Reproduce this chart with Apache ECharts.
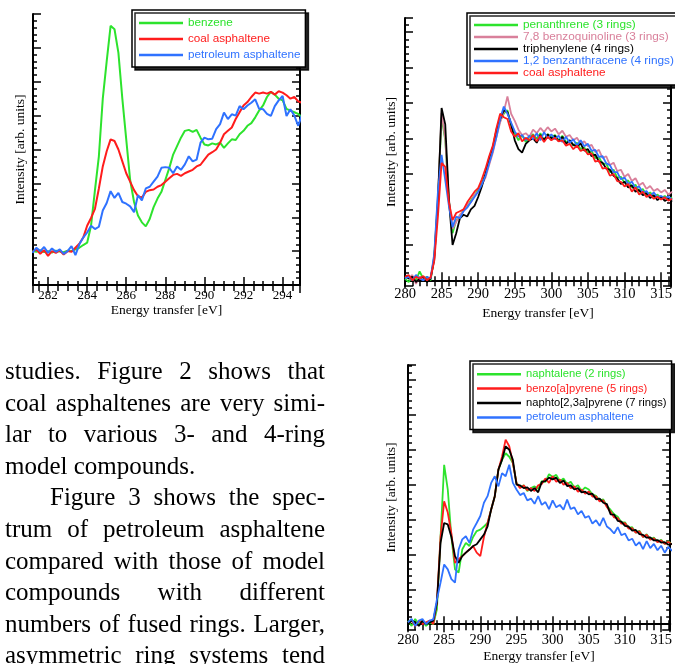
<!DOCTYPE html>
<html>
<head>
<meta charset="utf-8">
<script src="https://cdn.jsdelivr.net/npm/echarts@6/dist/echarts.min.js"></script>
<style>
  html, body { margin: 0; padding: 0; background: #fff; }
  #page { position: relative; width: 675px; height: 664px; overflow: hidden; }
  #chart { position: absolute; left: 0; top: 0; width: 675px; height: 664px; }
  #text { position: absolute; left: 5px; top: 355px; width: 320px;
          font-family: 'Liberation Serif', serif; font-size: 25px; line-height: 31.6px; color: #000; }
  #text div { text-align: justify; text-align-last: justify; }
  #text div.left { text-align: left; text-align-last: left; }
  #text div.indent { padding-left: 45px; }
</style>
</head>
<body>
<div id="page">
  <div id="chart"></div>
  <div id="text">
    <div>studies. Figure 2 shows that</div>
    <div>coal asphaltenes are very simi-</div>
    <div>lar to various 3- and 4-ring</div>
    <div class="left">model compounds.</div>
    <div class="indent">Figure 3 shows the spec-</div>
    <div>trum of petroleum asphaltene</div>
    <div>compared with those of model</div>
    <div>compounds with different</div>
    <div>numbers of fused rings. Larger,</div>
    <div>asymmetric ring systems tend</div>
  </div>
</div>
<script>
// energy grids [eV]
const energyFig1 = [
  281.2, 281.4, 281.6, 281.8, 282.0, 282.2, 282.4, 282.6, 282.8, 283.0,
  283.2, 283.4, 283.6, 283.8, 284.0, 284.2, 284.4, 284.6, 284.8, 285.0,
  285.2, 285.4, 285.6, 285.8, 286.0, 286.2, 286.4, 286.6, 286.8, 287.0,
  287.2, 287.4, 287.6, 287.8, 288.0, 288.2, 288.4, 288.6, 288.8, 289.0,
  289.2, 289.4, 289.6, 289.8, 290.0, 290.2, 290.4, 290.6, 290.8, 291.0,
  291.2, 291.4, 291.6, 291.8, 292.0, 292.2, 292.4, 292.6, 292.8, 293.0,
  293.2, 293.4, 293.6, 293.8, 294.0, 294.2, 294.4, 294.6, 294.8, 295.0
];
const energyFig23 = [
  280.0, 280.5, 281.0, 281.5, 282.0, 282.5, 283.0, 283.5, 284.0, 284.5,
  285.0, 285.5, 286.0, 286.5, 287.0, 287.5, 288.0, 288.5, 289.0, 289.5,
  290.0, 290.5, 291.0, 291.5, 292.0, 292.5, 293.0, 293.5, 294.0, 294.5,
  295.0, 295.5, 296.0, 296.5, 297.0, 297.5, 298.0, 298.5, 299.0, 299.5,
  300.0, 300.5, 301.0, 301.5, 302.0, 302.5, 303.0, 303.5, 304.0, 304.5,
  305.0, 305.5, 306.0, 306.5, 307.0, 307.5, 308.0, 308.5, 309.0, 309.5,
  310.0, 310.5, 311.0, 311.5, 312.0, 312.5, 313.0, 313.5, 314.0, 314.5,
  315.0, 315.5, 316.0, 316.5
];

// figure 1 (top left)
const benzene = [
  1.00, 0.98, 1.02, 0.97, 1.00, 0.96, 1.01, 0.99, 0.97, 1.01,
  1.00, 1.05, 1.10, 1.18, 1.25, 1.75, 2.80, 3.80, 5.50, 6.60,
  7.65, 7.55, 6.85, 5.50, 4.30, 3.10, 2.45, 2.05, 1.85, 1.73,
  1.95, 2.30, 2.55, 2.75, 3.10, 3.45, 3.85, 4.10, 4.35, 4.55,
  4.58, 4.52, 4.58, 4.35, 4.15, 4.12, 4.18, 4.15, 4.20, 4.05,
  4.18, 4.30, 4.28, 4.45, 4.55, 4.70, 4.78, 4.95, 5.15, 5.30,
  5.55, 5.70, 5.62, 5.50, 5.45, 5.20, 5.15, 5.10, 5.05, 4.95
];
const coalFig1 = [
  0.98, 1.05, 0.92, 1.03, 0.86, 1.00, 0.95, 1.02, 0.90, 1.00,
  0.98, 1.10, 1.22, 1.40, 1.75, 1.98, 2.25, 2.85, 3.50, 3.95,
  4.30, 4.25, 4.00, 3.65, 3.30, 3.05, 2.80, 2.62, 2.58, 2.75,
  2.80, 2.82, 2.90, 2.95, 3.05, 3.15, 3.25, 3.28, 3.22, 3.30,
  3.35, 3.40, 3.50, 3.55, 3.70, 3.85, 3.92, 4.00, 4.20, 4.45,
  4.55, 4.65, 4.90, 5.10, 5.30, 5.40, 5.55, 5.68, 5.65, 5.68,
  5.65, 5.70, 5.62, 5.72, 5.68, 5.60, 5.50, 5.55, 5.42, 5.38
];
const petroFig1 = [
  0.95, 1.10, 1.00, 1.12, 0.95, 1.08, 0.98, 1.05, 0.92, 1.00,
  1.15, 0.88, 1.20, 1.40, 1.55, 1.75, 1.65, 1.72, 2.20, 2.42,
  2.77, 2.57, 2.72, 2.45, 2.40, 2.32, 2.15, 2.65, 2.50, 2.85,
  2.90, 3.05, 3.20, 3.46, 3.48, 3.46, 3.30, 3.50, 3.40, 3.56,
  3.80, 3.65, 3.70, 4.20, 4.35, 4.30, 4.32, 4.60, 4.75, 5.09,
  4.90, 5.04, 5.00, 5.28, 5.19, 5.30, 5.38, 5.48, 5.20, 5.19,
  5.05, 4.99, 5.28, 5.45, 5.58, 4.99, 5.19, 5.00, 4.70, 5.04
];

// figure 2 (top right)
const penanthrene = [
  0.05, -0.05, 0.10, 0.00, 0.25, 0.05, 0.10, 0.00, 0.70, 2.30,
  4.60, 3.95, 2.27, 1.33, 1.70, 1.80, 2.00, 2.10, 2.25, 2.40,
  2.55, 2.75, 3.00, 3.35, 3.70, 4.15, 4.50, 4.70, 4.80, 4.35,
  4.15, 3.95, 4.10, 3.90, 4.05, 4.12, 4.00, 4.15, 3.95, 4.12,
  4.05, 4.10, 3.95, 4.08, 3.90, 3.95, 3.80, 3.88, 3.70, 3.75,
  3.60, 3.65, 3.45, 3.48, 3.28, 3.30, 3.05, 3.12, 2.90, 2.92,
  2.75, 2.82, 2.62, 2.70, 2.50, 2.58, 2.40, 2.48, 2.36, 2.42,
  2.32, 2.38, 2.28, 2.34
];
const benzoquinoline = [
  0.10, 0.05, 0.15, -0.10, 0.10, 0.05, 0.00, 0.10, 0.65, 2.40,
  4.72, 4.00, 2.30, 1.45, 1.65, 1.85, 1.95, 2.15, 2.20, 2.40,
  2.50, 2.70, 2.90, 3.25, 3.60, 4.05, 4.45, 4.75, 5.19, 4.70,
  4.50, 4.25, 4.10, 4.15, 4.05, 4.25, 4.15, 4.30, 4.18, 4.32,
  4.20, 4.28, 4.12, 4.22, 4.05, 4.10, 3.95, 4.02, 3.85, 3.92,
  3.78, 3.82, 3.62, 3.68, 3.45, 3.50, 3.25, 3.32, 3.08, 3.12,
  2.92, 3.00, 2.80, 2.88, 2.68, 2.75, 2.58, 2.66, 2.52, 2.58,
  2.48, 2.55, 2.42, 2.50
];
const triphenylene = [
  0.15, 0.05, 0.10, -0.05, 0.05, 0.10, -0.05, 0.05, 0.60, 2.20,
  4.86, 4.40, 2.27, 1.00, 1.33, 1.75, 1.85, 1.80, 2.00, 2.10,
  2.35, 2.65, 3.00, 3.45, 3.75, 4.25, 4.55, 4.80, 4.75, 4.40,
  3.95, 3.70, 3.60, 3.85, 3.95, 4.00, 3.88, 4.10, 3.95, 4.12,
  4.00, 4.08, 3.92, 4.05, 3.85, 3.95, 3.82, 3.78, 3.86, 3.66,
  3.70, 3.50, 3.55, 3.35, 3.32, 3.15, 3.12, 2.95, 2.88, 2.72,
  2.78, 2.62, 2.68, 2.50, 2.55, 2.40, 2.46, 2.32, 2.40, 2.26,
  2.36, 2.24, 2.30, 2.22
];
const benzanthracene = [
  0.05, 0.10, 0.00, 0.15, 0.05, 0.00, 0.10, 0.05, 0.75, 2.50,
  3.54, 2.83, 2.10, 1.50, 1.80, 1.75, 1.95, 2.05, 2.20, 2.35,
  2.50, 2.70, 2.95, 3.30, 3.65, 4.05, 4.55, 4.90, 4.70, 4.45,
  4.20, 4.05, 4.10, 3.95, 4.08, 3.98, 4.15, 3.95, 4.18, 4.00,
  4.12, 3.98, 4.08, 3.90, 4.05, 3.88, 3.98, 3.80, 3.95, 3.78,
  3.85, 3.65, 3.68, 3.48, 3.50, 3.30, 3.25, 3.05, 3.05, 2.85,
  2.90, 2.72, 2.78, 2.60, 2.65, 2.48, 2.52, 2.38, 2.48, 2.34,
  2.38, 2.32, 2.36, 2.28
];
const coalFig2 = [
  0.10, 0.15, 0.00, 0.10, 0.05, 0.12, 0.00, 0.08, 0.55, 1.80,
  3.31, 3.20, 2.20, 1.70, 1.90, 1.95, 2.00, 2.20, 2.35, 2.50,
  2.60, 2.85, 3.15, 3.50, 3.80, 4.30, 4.70, 4.60, 4.55, 4.20,
  4.05, 4.15, 3.92, 4.02, 3.95, 4.10, 3.92, 4.08, 3.90, 4.05,
  3.95, 4.02, 3.92, 3.95, 3.80, 3.85, 3.70, 3.80, 3.65, 3.70,
  3.55, 3.58, 3.35, 3.38, 3.15, 3.18, 2.95, 3.00, 2.80, 2.78,
  2.65, 2.72, 2.50, 2.62, 2.42, 2.50, 2.35, 2.42, 2.30, 2.36,
  2.28, 2.34, 2.25, 2.30
];

// figure 3 (bottom right)
const naphtalene = [
  0.10, -0.05, 0.15, 0.00, 0.10, -0.05, 0.05, 0.00, 0.43, 2.50,
  4.57, 3.86, 2.50, 1.57, 1.48, 2.14, 2.33, 2.24, 2.50, 2.67,
  2.71, 2.80, 2.90, 3.29, 3.67, 4.43, 4.71, 4.90, 4.80, 4.62,
  4.05, 3.92, 3.98, 3.82, 3.90, 3.95, 3.88, 4.10, 4.08, 4.30,
  4.22, 4.28, 4.10, 4.18, 4.02, 4.08, 3.92, 3.98, 3.82, 3.92,
  3.86, 3.72, 3.68, 3.55, 3.58, 3.38, 3.28, 3.15, 3.08, 2.92,
  2.92, 2.76, 2.78, 2.62, 2.68, 2.50, 2.58, 2.44, 2.48, 2.36,
  2.42, 2.30, 2.38, 2.28
];
const benzopyrene = [
  0.05, 0.10, -0.05, 0.10, 0.00, 0.05, 0.10, 0.00, 0.62, 2.50,
  3.52, 3.20, 2.60, 1.76, 1.86, 1.95, 2.05, 2.14, 2.24, 2.05,
  1.95, 2.50, 2.90, 3.29, 3.67, 4.43, 4.80, 5.29, 5.10, 4.62,
  4.05, 3.90, 3.98, 3.84, 3.90, 3.82, 3.98, 4.02, 4.18, 4.05,
  4.24, 4.08, 4.15, 4.00, 4.05, 3.90, 3.95, 3.80, 3.86, 3.74,
  3.80, 3.66, 3.66, 3.52, 3.55, 3.36, 3.22, 3.06, 3.04, 2.88,
  2.90, 2.74, 2.75, 2.62, 2.66, 2.50, 2.56, 2.42, 2.46, 2.35,
  2.40, 2.30, 2.36, 2.28
];
const naphtopyrene = [
  0.00, 0.10, 0.05, -0.05, 0.10, 0.00, 0.05, 0.10, 0.62, 2.33,
  2.90, 2.86, 2.50, 1.95, 1.76, 1.95, 2.05, 2.14, 2.24, 2.29,
  2.43, 2.57, 2.80, 3.29, 3.67, 4.43, 4.71, 5.10, 5.00, 4.71,
  4.00, 3.98, 3.90, 3.92, 3.82, 3.90, 3.78, 4.08, 4.10, 4.20,
  4.15, 4.20, 4.05, 4.12, 3.96, 3.98, 3.86, 3.90, 3.78, 3.80,
  3.72, 3.74, 3.58, 3.60, 3.48, 3.44, 3.15, 3.14, 2.96, 2.94,
  2.82, 2.80, 2.68, 2.70, 2.58, 2.56, 2.48, 2.49, 2.40, 2.41,
  2.34, 2.35, 2.28, 2.30
];
const petroFig3 = [
  0.05, 0.15, -0.05, 0.10, 0.15, 0.00, 0.10, 0.14, 0.71, 1.19,
  1.71, 1.57, 1.29, 1.19, 2.14, 2.43, 2.52, 2.33, 2.71, 2.90,
  3.10, 3.48, 3.67, 4.05, 4.24, 3.95, 4.33, 4.24, 4.57, 4.05,
  3.86, 3.70, 3.76, 3.55, 3.60, 3.45, 3.67, 3.42, 3.50, 3.30,
  3.55, 3.35, 3.42, 3.28, 3.57, 3.30, 3.35, 3.15, 3.25, 3.05,
  3.10, 2.88, 2.98, 2.82, 3.05, 2.80, 2.72, 2.60, 2.78, 2.55,
  2.60, 2.40, 2.45, 2.25, 2.35, 2.15, 2.38, 2.18, 2.30, 2.12,
  2.25, 2.05, 2.22, 2.10
];

const GREEN = '#2de32d', RED = '#ff1c1c', BLUE = '#2f72ff', PINK = '#d9809b', BLACK = '#000';
const SERIF = 'Liberation Serif';
const SANS = 'Liberation Sans';

function xPair(grid, min, max, labelSize, labelMargin, nameGap, showMin, minorSplit) {
  const common = {
    type: 'value', gridIndex: grid, min: min, max: max, splitNumber: 7,
    splitLine: { show: false },
    axisLine: { show: true, lineStyle: { color: BLACK, width: 2 } },
    axisTick: { show: true, inside: true, length: 8, lineStyle: { color: BLACK, width: 1.5 } },
    minorTick: { show: true, splitNumber: minorSplit, length: 4, lineStyle: { color: BLACK, width: 1.5 } }
  };
  return [
    Object.assign({}, common, {
      position: 'bottom',
      axisLabel: { show: true, color: BLACK, fontFamily: SERIF, fontSize: labelSize, margin: labelMargin,
                   showMinLabel: showMin, showMaxLabel: false },
      name: 'Energy transfer [eV]', nameLocation: 'middle', nameGap: nameGap,
      nameTextStyle: { color: BLACK, fontFamily: SERIF, fontSize: 13.5 }
    }),
    Object.assign({}, common, {
      position: 'top', axisLabel: { show: false },
      minorTick: { show: true, splitNumber: minorSplit, length: 6, lineStyle: { color: BLACK, width: 1.5 } }
    })
  ];
}

function yPair(grid, min, max, nameGap) {
  const common = {
    type: 'value', gridIndex: grid, min: min, max: max, splitNumber: 7,
    splitLine: { show: false },
    axisLabel: { show: false },
    axisLine: { show: true, lineStyle: { color: BLACK, width: 2 } },
    axisTick: { show: true, inside: true, length: 8, lineStyle: { color: BLACK, width: 1.5 } },
    minorTick: { show: true, splitNumber: 5, length: 4, lineStyle: { color: BLACK, width: 1.5 } }
  };
  return [
    Object.assign({}, common, {
      position: 'left',
      name: 'Intensity [arb. units]', nameLocation: 'middle', nameRotate: 90, nameGap: nameGap,
      nameTextStyle: { color: BLACK, fontFamily: SERIF, fontSize: 13.5 }
    }),
    Object.assign({}, common, { position: 'right' })
  ];
}

function line(name, energy, values, color, axis, width) {
  return {
    type: 'line', name: name, xAxisIndex: axis, yAxisIndex: axis,
    data: energy.map((e, i) => [e, values[i]]),
    symbol: 'none', showSymbol: false,
    lineStyle: { color: color, width: width }, itemStyle: { color: color },
    animation: false
  };
}

function legendBox(left, top, padding, fontSize, lineHeight, items) {
  return {
    left: left, top: top, orient: 'vertical', padding: padding, itemGap: 0,
    icon: 'rect', itemWidth: 44, itemHeight: 2.5, selectedMode: false,
    backgroundColor: '#fff', borderColor: BLACK, borderWidth: 1.5,
    shadowColor: 'rgba(0,0,0,0.85)', shadowBlur: 0, shadowOffsetX: 3, shadowOffsetY: 3,
    textStyle: { fontFamily: SANS, fontSize: fontSize, lineHeight: lineHeight },
    data: items.map(it => ({ name: it[0], textStyle: { color: it[1] } }))
  };
}

const chart = echarts.init(document.getElementById('chart'), null, { renderer: 'canvas' });

const option = {
  animation: false,
  grid: [
    { left: 33, top: 14, width: 267, height: 271 },
    { left: 405, top: 18, width: 268, height: 268 },
    { left: 408, top: 365, width: 265, height: 266 }
  ],
  xAxis: [].concat(
    xPair(0, 281.23, 294.89, 13, 4, 18, false, 4),
    xPair(1, 280, 316.35, 14.5, 1, 20, true, 5),
    xPair(2, 280, 316.25, 14.5, 3, 17, true, 5)
  ),
  yAxis: [].concat(
    yPair(0, 0, 8, 6),
    yPair(1, -0.16, 7.4, 7),
    yPair(2, -0.17, 7.43, 10)
  ),
  legend: [
    legendBox(132, 10, [5, 5, 4, 7], 11.7, 16, [
      ['benzene', GREEN], ['coal asphaltene', RED], ['petroleum asphaltene', BLUE]
    ]),
    legendBox(467, 13, [6, 5, 6, 7], 11.8, 11.3, [
      ['penanthrene (3 rings)', GREEN], ['7,8 benzoquinoline (3 rings)', PINK],
      ['triphenylene (4 rings)', BLACK], ['1,2 benzanthracene (4 rings)', BLUE],
      ['coal asphaltene', RED]
    ]),
    legendBox(470, 361, [6, 5, 5, 7], 11.2, 14.4, [
      ['naphtalene (2 rings)', GREEN], ['benzo[a]pyrene (5 rings)', RED],
      ['naphto[2,3a]pyrene (7 rings)', BLACK], ['petroleum asphaltene', BLUE]
    ])
  ],
  series: [
    line('benzene', energyFig1, benzene, GREEN, 0, 2),
    line('coal asphaltene', energyFig1, coalFig1, RED, 0, 2),
    line('petroleum asphaltene', energyFig1, petroFig1, BLUE, 0, 2),

    line('penanthrene (3 rings)', energyFig23, penanthrene, GREEN, 2, 1.8),
    line('7,8 benzoquinoline (3 rings)', energyFig23, benzoquinoline, PINK, 2, 1.8),
    line('triphenylene (4 rings)', energyFig23, triphenylene, BLACK, 2, 1.8),
    line('1,2 benzanthracene (4 rings)', energyFig23, benzanthracene, BLUE, 2, 1.8),
    line('coal asphaltene', energyFig23, coalFig2, RED, 2, 1.8),

    line('naphtalene (2 rings)', energyFig23, naphtalene, GREEN, 4, 1.8),
    line('benzo[a]pyrene (5 rings)', energyFig23, benzopyrene, RED, 4, 1.8),
    line('naphto[2,3a]pyrene (7 rings)', energyFig23, naphtopyrene, BLACK, 4, 1.8),
    line('petroleum asphaltene', energyFig23, petroFig3, BLUE, 4, 1.8)
  ]
};

chart.setOption(option);
</script>
</body>
</html>
